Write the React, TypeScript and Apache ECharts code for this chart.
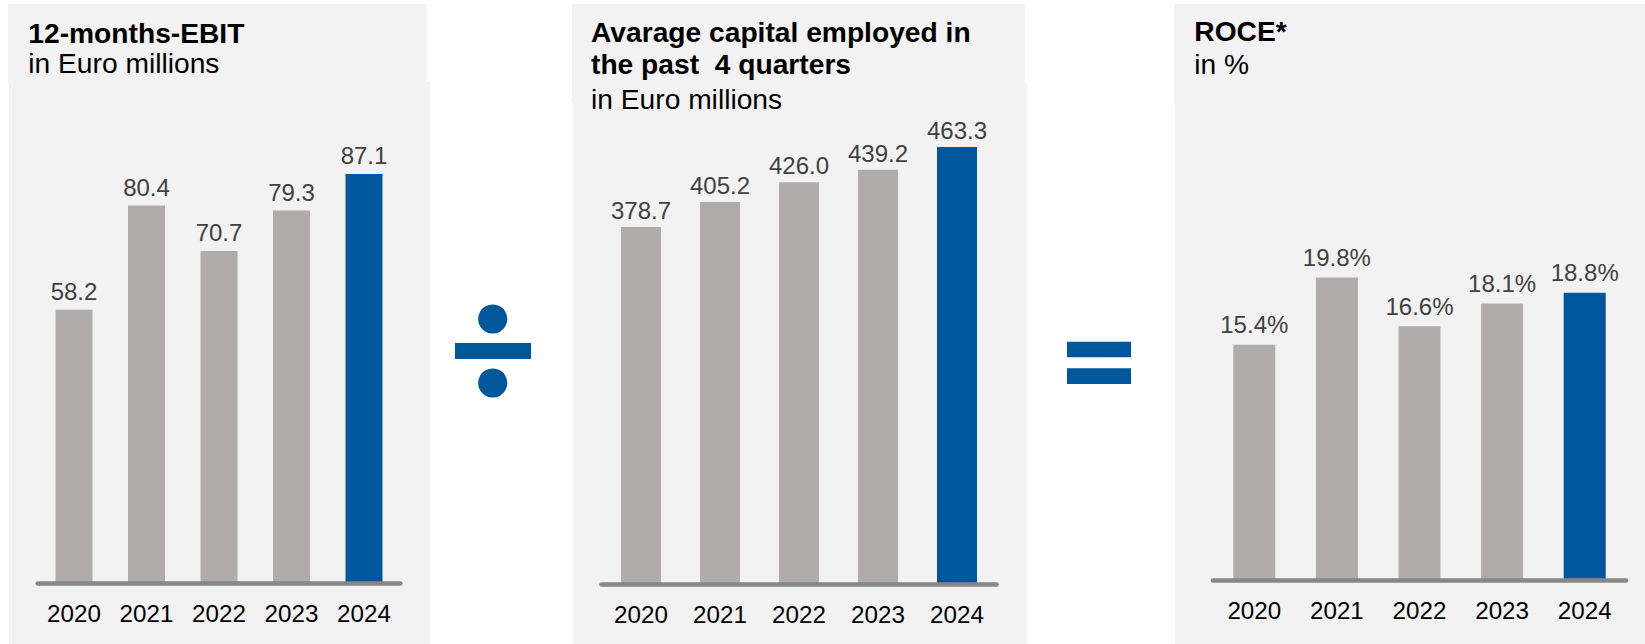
import React, { useEffect, useRef } from "react";
import * as echarts from "echarts";

const years = ["2020", "2021", "2022", "2023", "2024"];
const ebit = [58.2, 80.4, 70.7, 79.3, 87.1];
const capital = [378.7, 405.2, 426.0, 439.2, 463.3];
const roce = [15.4, 19.8, 16.6, 18.1, 18.8];

const ebitTitle = ["12-months-EBIT", "in Euro millions"];
const capitalTitle = ["Avarage capital employed in", "the past  4 quarters", "in Euro millions"];
const roceTitle = ["ROCE*", "in %"];

const BLUE = "#00579C";
const GRAY = "#B0ACAB";
const BG = "#F2F2F2";
const AXIS = "#878787";
const FONT = "'Liberation Sans', Arial, sans-serif";

function barData(values: number[]) {
  return values.map((v, i) => ({
    value: v,
    itemStyle: { color: i === values.length - 1 ? BLUE : GRAY },
  }));
}

export default function App() {
  const ref = useRef<HTMLDivElement>(null);
  useEffect(() => {
    if (!ref.current) return;
    const chart = echarts.init(ref.current, undefined, { renderer: "svg" });

    const grids = [
      { left: 37.75, width: 362.5, top: 113.4, height: 469.6 },
      { left: 601.5, width: 395, top: 112.5, height: 471.5 },
      { left: 1213, width: 413, top: 198, height: 382 },
    ];
    const yMax = [100, 500, 25];
    const labelMargins = [16, 16.5, 16.5];
    const labelDist = [6, 4.5, 8];
    const barWidths = [37, 40, 42];
    const datasets = [ebit, capital, roce];
    const formats = [
      (v: number) => v.toFixed(1),
      (v: number) => v.toFixed(1),
      (v: number) => v.toFixed(1) + "%",
    ];

    const titleText = (x: number, y: number, text: string, bold: boolean) => ({
      type: "text",
      x,
      y,
      z: 10,
      style: {
        text,
        fontSize: 28.2,
        fontWeight: bold ? "bold" : "normal",
        fontFamily: FONT,
        fill: "#000000",
        verticalAlign: "middle",
        align: "left",
      },
    });

    const bgRect = (x: number, y: number, w: number, h: number) => ({
      type: "rect",
      shape: { x, y, width: w, height: h },
      style: { fill: BG },
      z: -10,
      silent: true,
    });

    const graphicEls: any[] = [
      bgRect(8, 4, 419, 80),
      bgRect(9, 82, 421, 562),
      bgRect(572, 4, 453, 98),
      bgRect(573, 83, 454, 561),
      bgRect(1174, 4, 471, 100),
      bgRect(1175, 102, 470, 542),
      titleText(28.3, 33, ebitTitle[0], true),
      titleText(28.3, 63.4, ebitTitle[1], false),
      titleText(591, 32, capitalTitle[0], true),
      titleText(591, 64.3, capitalTitle[1], true),
      titleText(591, 98.6, capitalTitle[2], false),
      titleText(1194.3, 31, roceTitle[0], true),
      titleText(1194.3, 64.3, roceTitle[1], false),
      // divide sign
      { type: "circle", shape: { cx: 492.7, cy: 319, r: 14.6 }, style: { fill: BLUE } },
      { type: "rect", shape: { x: 455, y: 343, width: 76, height: 16 }, style: { fill: BLUE } },
      { type: "circle", shape: { cx: 492.7, cy: 383, r: 14.6 }, style: { fill: BLUE } },
      // equals sign
      { type: "rect", shape: { x: 1067, y: 341.7, width: 64, height: 15.5 }, style: { fill: BLUE } },
      { type: "rect", shape: { x: 1067, y: 368.3, width: 64, height: 15.7 }, style: { fill: BLUE } },
    ];

    chart.setOption({
      animation: false,
      backgroundColor: "#ffffff",
      textStyle: { fontFamily: FONT },
      grid: grids.map((g) => ({ ...g, containLabel: false })),
      xAxis: grids.map((_, i) => ({
        type: "category",
        gridIndex: i,
        data: years,
        offset: 2.2,
        axisLine: { show: true, lineStyle: { color: AXIS, width: 4.6 } },
        axisTick: { show: false },
        splitLine: { show: false },
        axisLabel: {
          margin: labelMargins[i],
          fontSize: 24.2,
          color: "#000000",
          fontFamily: FONT,
        },
        z: 5,
      })),
      yAxis: grids.map((_, i) => ({
        type: "value",
        gridIndex: i,
        min: 0,
        max: yMax[i],
        show: false,
        splitLine: { show: false },
      })),
      series: datasets.map((d, i) => ({
        type: "bar",
        xAxisIndex: i,
        yAxisIndex: i,
        barWidth: barWidths[i],
        data: barData(d),
        label: {
          show: true,
          position: "top",
          distance: labelDist[i],
          fontSize: 24,
          color: "#404040",
          fontFamily: FONT,
          formatter: (p: any) => formats[i](p.value),
        },
      })),
      graphic: { elements: graphicEls },
    });

    return () => chart.dispose();
  }, []);

  return (
    <div
      ref={ref}
      style={{ position: "absolute", left: 0, top: 0, width: 1645, height: 644 }}
    />
  );
}
